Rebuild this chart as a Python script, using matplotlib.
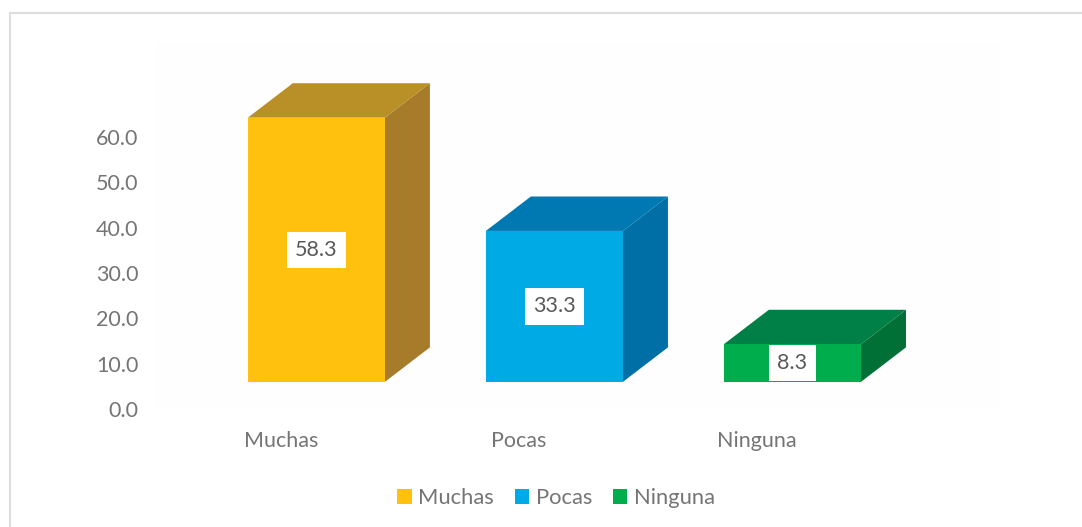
import matplotlib
matplotlib.use("Agg")
import matplotlib.pyplot as plt
from matplotlib.lines import Line2D
from matplotlib.patches import Patch, Polygon, Rectangle

categories = ["Muchas", "Pocas", "Ninguna"]
values = [58.3, 33.3, 8.3]
y_ticks = [0, 10, 20, 30, 40, 50, 60]

front_colors = ["#FFC10E", "#00AAE5", "#00AD4D"]
side_colors = ["#A67C2A", "#006FA5", "#007036"]
top_colors = ["#B98F27", "#0079B3", "#008046"]

W, H = 1082, 527
plt.rcParams["font.family"] = ["Lato", "DejaVu Sans"]
text_color = "#757575"

fig = plt.figure(figsize=(W / 100, H / 100), dpi=100)
fig.patch.set_facecolor("white")

# only the top and left edge of the frame are in the picture
fig.add_artist(Line2D([10 / W, 10 / W, 1], [0, (H - 13) / H, (H - 13) / H], transform=fig.transFigure,
                      color="#DDDDDD", linewidth=1.5, solid_joinstyle="miter"))

ax = fig.add_axes([155 / W, (H - 409) / H, 845 / W, 367 / H])
ax.set_facecolor("#FEFEFE")
ax.set_xlim(-0.529, 3.021)
ax.set_ylim(0, 81)
for s in ax.spines.values():
    s.set_visible(False)

# fake 3D box, the front face floats above the axis zero
base = 6
shift = 0.149
width = 0.576
dx = 0.189
dy = 7.6

for i, v in enumerate(values):
    x0 = i + shift - width / 2
    x1 = i + shift + width / 2
    y0 = base
    y1 = base + v
    ax.add_patch(Polygon([(x1, y0), (x1 + dx, y0 + dy), (x1 + dx, y1 + dy), (x1, y1)],
                         facecolor=side_colors[i], edgecolor="none"))
    ax.add_patch(Polygon([(x0, y1), (x0 + dx, y1 + dy), (x1 + dx, y1 + dy), (x1, y1)],
                         facecolor=top_colors[i], edgecolor="none"))
    ax.add_patch(Rectangle((x0, y0), width, v, facecolor=front_colors[i], edgecolor="none"))
    ax.text(i + shift, base + v / 2, f"{v:.1f}", ha="center", va="center", fontsize=15.5,
            color="#595959", bbox=dict(boxstyle="square,pad=0.38", facecolor="white", edgecolor="none"))

ax.set_yticks(y_ticks)
ax.set_yticklabels([f"{t:.1f}" for t in y_ticks])
ax.set_xticks(range(len(categories)))
ax.set_xticklabels(categories)
ax.tick_params(axis="both", length=0, labelsize=15.5, labelcolor=text_color)
ax.tick_params(axis="x", pad=16)
ax.tick_params(axis="y", pad=12)

handles = [Patch(facecolor=c, edgecolor="none", label=n) for c, n in zip(front_colors, categories)]
fig.legend(handles=handles, loc="center", bbox_to_anchor=(556 / W, (H - 498) / H), ncol=3, frameon=False,
           fontsize=15.8, labelcolor=text_color, handlelength=0.65, handleheight=0.65,
           handletextpad=0.3, columnspacing=0.95, borderpad=0)

fig.savefig("out.png", dpi=100)
